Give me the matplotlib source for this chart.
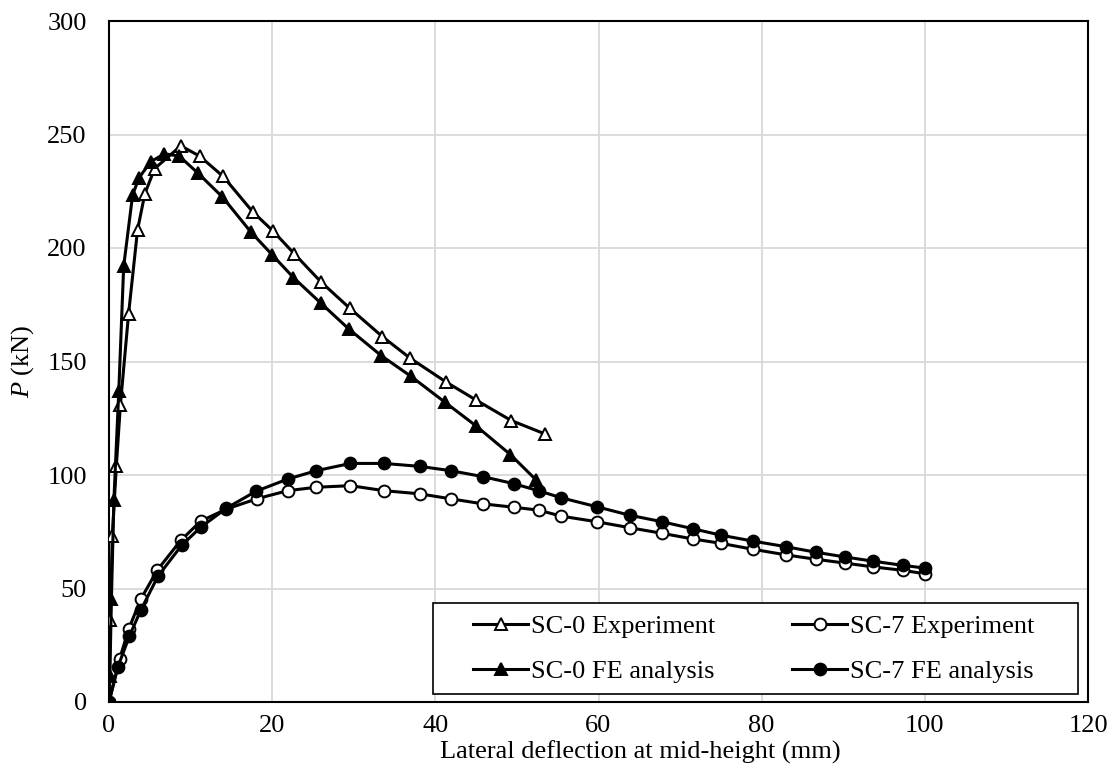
import matplotlib
matplotlib.use("Agg")
import matplotlib.pyplot as plt
from matplotlib.patches import Rectangle

plt.rcParams['font.family'] = ['Liberation Serif', 'DejaVu Serif']
plt.rcParams['mathtext.fontset'] = 'custom'
plt.rcParams['mathtext.rm'] = 'Liberation Serif'
plt.rcParams['mathtext.it'] = 'Liberation Serif:italic'

# SC-0 Experiment
sc0_exp_x = [0, 0.16, 0.4, 0.9, 1.4, 2.4, 3.5, 4.4, 5.6, 8.8, 11.1, 14.0, 17.6, 20.1,
             22.7, 26.0, 29.5, 33.5, 36.9, 41.3, 45.0, 49.3, 53.5]
sc0_exp_y = [0, 36, 73, 104, 131, 171, 208, 224, 235, 245, 240.5, 231.5, 216, 207.5,
             197.5, 185, 173.5, 161, 151.5, 141, 133, 124, 118]

# SC-0 FE analysis
sc0_fe_x = [0, 0.1, 0.3, 0.6, 1.2, 1.8, 2.9, 3.7, 5.1, 6.8, 8.6, 10.9, 13.9, 17.4, 20.0,
            22.6, 26.0, 29.4, 33.4, 37.0, 41.2, 45.0, 49.2, 52.3]
sc0_fe_y = [0, 11.5, 45.5, 89, 137, 192, 223.5, 231, 238, 241.5, 240.5, 233, 222.5, 207, 197,
            187, 175.6, 164.3, 152.5, 143.5, 132, 121.6, 109, 98]

# SC-7 Experiment
sc7_exp_x = [0, 1.3, 2.4, 3.9, 5.9, 8.8, 11.25, 14.4, 18.1, 21.9, 25.4, 29.6, 33.7, 38.1,
             41.9, 45.8, 49.6, 52.7, 55.4, 59.8, 63.8, 67.8, 71.6, 75.0, 78.9, 83.0, 86.6,
             90.2, 93.7, 97.3, 100]
sc7_exp_y = [0, 18.9, 32, 45.3, 58, 71.2, 79.7, 85, 89.5, 93.1, 94.6, 95.3, 93.1, 91.7,
             89.5, 87.3, 85.8, 84.5, 81.9, 79.4, 76.8, 74.3, 71.8, 69.9, 67.3, 64.8, 62.9,
             61.2, 59.5, 58, 56.5]

# SC-7 FE analysis
sc7_fe_x = [0, 1.1, 2.5, 3.9, 6.0, 8.9, 11.25, 14.4, 18.0, 21.9, 25.4, 29.6, 33.7, 38.1,
            41.9, 45.8, 49.6, 52.7, 55.4, 59.8, 63.8, 67.8, 71.6, 75.0, 78.9, 83.0, 86.6,
            90.2, 93.7, 97.3, 100]
sc7_fe_y = [0, 15.6, 29, 40.5, 55.4, 69, 77, 85.4, 92.8, 98.2, 101.9, 105.1, 105.1, 103.8,
            101.9, 99.3, 96.2, 93, 90, 86, 82.3, 79.4, 76.3, 73.5, 70.9, 68.4, 66, 63.9,
            62, 60.2, 59]

labels = ["SC-0 Experiment", "SC-0 FE analysis", "SC-7 Experiment", "SC-7 FE analysis"]

W, H = 1118, 783
fig = plt.figure(figsize=(W / 100, H / 100), dpi=100)
ax = fig.add_axes([109 / W, 1 - 702 / H, (1088 - 109) / W, (702 - 21) / H])

FS = 19
lw = 2.2
ms = 8.5
mew = 1.4
ax.plot(sc0_exp_x, sc0_exp_y, color='black', lw=lw, marker='^', ms=ms, mfc='white',
        mec='black', mew=mew, label=labels[0], zorder=3)
ax.plot(sc0_fe_x, sc0_fe_y, color='black', lw=lw, marker='^', ms=ms, mfc='black',
        mec='black', mew=mew, label=labels[1], zorder=3)
ax.plot(sc7_exp_x, sc7_exp_y, color='black', lw=lw, marker='o', ms=ms, mfc='white',
        mec='black', mew=mew, label=labels[2], zorder=3)
ax.plot(sc7_fe_x, sc7_fe_y, color='black', lw=lw, marker='o', ms=ms, mfc='black',
        mec='black', mew=mew, label=labels[3], zorder=3)

ax.set_xlim(0, 120)
ax.set_ylim(0, 300)
ax.set_xticks(range(0, 121, 20))
ax.set_yticks(range(0, 301, 50))
ax.grid(True, color='#d9d9d9', lw=1.3, zorder=0)
ax.set_axisbelow(True)
ax.tick_params(length=0, labelsize=FS)
ax.tick_params(axis='y', pad=16)
ax.tick_params(axis='x', pad=9)
for s in ax.spines.values():
    s.set_color('black')
    s.set_linewidth(1.5)

ax.set_xlabel("Lateral deflection at mid-height (mm)", fontsize=FS)
ax.xaxis.set_label_coords((640 - 109) / (1088 - 109), -(752 - 702) / (702 - 21))
ax.xaxis.label.set_verticalalignment('center')
ax.set_ylabel(r"$\it{P}$ (kN)", fontsize=FS, labelpad=8)

# legend box
box = Rectangle((433 / W, 1 - 694 / H), (1078 - 433) / W, 91 / H, transform=fig.transFigure,
                facecolor='white', edgecolor='black', lw=1.2, zorder=5)
fig.add_artist(box)

leg = fig.legend(loc='center left', ncol=2,
                 bbox_to_anchor=(473 / W, 1 - 649 / H),
                 bbox_transform=fig.transFigure, fontsize=FS, frameon=False,
                 handlelength=2.1, handletextpad=0.1, borderpad=0,
                 labelspacing=0.82, columnspacing=2.9, borderaxespad=0)
leg.set_zorder(6)

fig.savefig("out.png", dpi=100)
